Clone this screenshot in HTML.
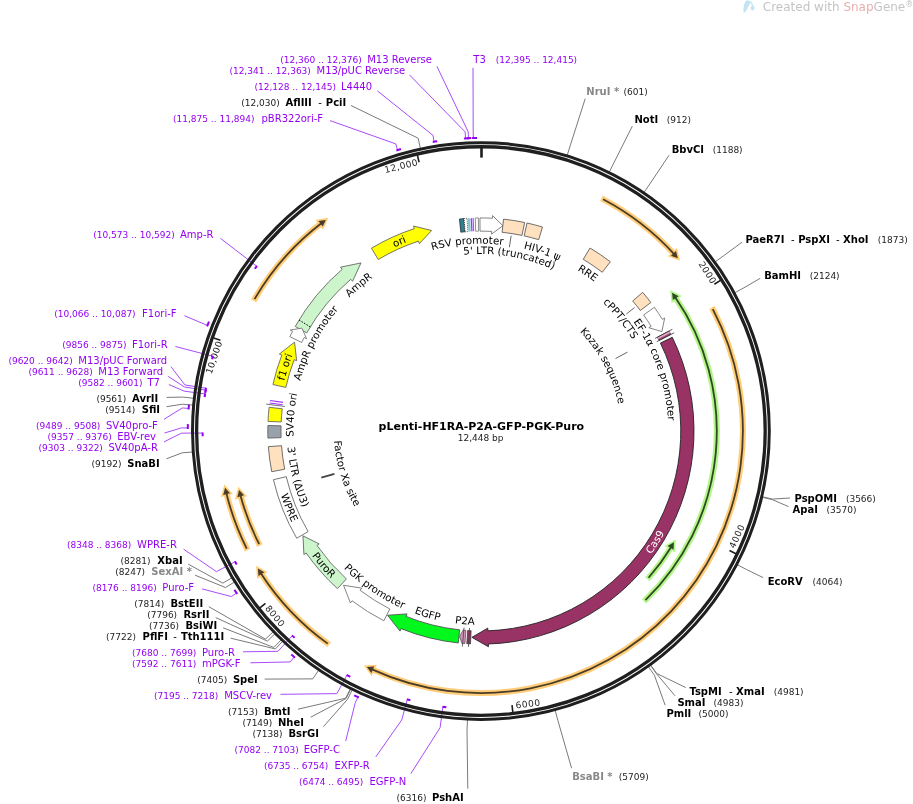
<!DOCTYPE html><html><head><meta charset="utf-8"><title>pLenti-HF1RA-P2A-GFP-PGK-Puro</title><style>html,body{margin:0;padding:0;background:#fff;width:913px;height:804px;overflow:hidden}svg{display:block}</style></head><body><svg width="913" height="804" viewBox="0 0 913 804" font-family="'DejaVu Sans', 'Liberation Sans', sans-serif">
<rect width="913" height="804" fill="#fff"/>
<g opacity="1">
<path d="M746.2,0.2 L750.2,0.9 C750.4,3 748.6,6 747.2,8.8 C746.2,10.8 745,12.6 743.7,13.3 C743.2,10.2 743.5,6.2 744.5,3.4 Z" fill="#c2e4f3"/>
<path d="M749.6,1.4 C751.2,2.4 752.4,4 752.7,6" stroke="#c2e4f3" stroke-width="1.3" fill="none"/>
<ellipse cx="752.6" cy="8.1" rx="1.9" ry="2.3" fill="#c2e4f3"/>
<text x="762.8" y="11.2" font-size="12" fill="#c4c4c4" font-family="'DejaVu Sans',sans-serif">Created with <tspan fill="#eab0b0">Snap</tspan>Gene<tspan font-size="8" dy="-4">®</tspan></text>
</g>
<polyline points="436.90,66.30 468.21,131.82 468.48,138.21" fill="none" stroke="#a84dfa" stroke-width="1"/>
<polyline points="409.60,75.00 465.19,131.96 465.52,138.35" fill="none" stroke="#a84dfa" stroke-width="1"/>
<polyline points="377.30,90.80 433.03,135.40 434.06,141.72" fill="none" stroke="#a84dfa" stroke-width="1"/>
<polyline points="351.00,105.50 418.18,138.19 420.59,149.44" fill="none" stroke="#7a7a7a" stroke-width="1"/>
<polyline points="330.00,120.60 395.77,143.90 397.59,150.04" fill="none" stroke="#a84dfa" stroke-width="1"/>
<polyline points="473.00,67.80 473.19,131.65 473.36,138.05" fill="none" stroke="#a84dfa" stroke-width="1"/>
<polyline points="585.20,98.70 570.37,145.23 566.93,156.20" fill="none" stroke="#7a7a7a" stroke-width="1"/>
<polyline points="632.30,126.20 613.95,162.73 608.84,173.03" fill="none" stroke="#7a7a7a" stroke-width="1"/>
<polyline points="669.00,155.30 649.92,183.80 643.43,193.30" fill="none" stroke="#7a7a7a" stroke-width="1"/>
<polyline points="742.00,242.20 723.71,255.72 714.39,262.45" fill="none" stroke="#7a7a7a" stroke-width="1"/>
<polyline points="760.20,278.30 743.92,287.80 733.82,293.30" fill="none" stroke="#7a7a7a" stroke-width="1"/>
<polyline points="790.00,498.00 772.57,499.08 761.37,496.47" fill="none" stroke="#7a7a7a" stroke-width="1"/>
<polyline points="788.50,506.60 772.43,499.67 761.24,497.04" fill="none" stroke="#7a7a7a" stroke-width="1"/>
<polyline points="763.10,577.60 746.48,569.49 736.28,564.18" fill="none" stroke="#7a7a7a" stroke-width="1"/>
<polyline points="685.70,687.50 656.72,673.51 649.97,664.20" fill="none" stroke="#7a7a7a" stroke-width="1"/>
<polyline points="675.00,695.80 656.48,673.69 649.73,664.37" fill="none" stroke="#7a7a7a" stroke-width="1"/>
<polyline points="665.20,705.30 654.39,675.19 647.73,665.81" fill="none" stroke="#7a7a7a" stroke-width="1"/>
<polyline points="571.60,768.20 557.88,720.49 554.92,709.37" fill="none" stroke="#7a7a7a" stroke-width="1"/>
<polyline points="467.80,788.70 467.00,730.23 467.53,718.74" fill="none" stroke="#7a7a7a" stroke-width="1"/>
<polyline points="410.80,773.70 440.06,727.75 442.95,706.75" fill="none" stroke="#a84dfa" stroke-width="1"/>
<polyline points="375.80,756.90 401.73,719.90 407.33,699.45" fill="none" stroke="#a84dfa" stroke-width="1"/>
<polyline points="345.70,741.00 355.21,702.90 357.90,697.09" fill="none" stroke="#a84dfa" stroke-width="1"/>
<polyline points="323.40,726.70 347.58,699.24 352.70,688.94" fill="none" stroke="#7a7a7a" stroke-width="1"/>
<polyline points="310.70,717.20 346.09,698.49 351.27,688.23" fill="none" stroke="#7a7a7a" stroke-width="1"/>
<polyline points="298.00,709.20 345.55,698.22 350.75,687.96" fill="none" stroke="#7a7a7a" stroke-width="1"/>
<polyline points="280.50,694.30 336.86,693.64 347.05,675.05" fill="none" stroke="#a84dfa" stroke-width="1"/>
<polyline points="264.70,679.10 312.75,678.89 319.21,669.38" fill="none" stroke="#7a7a7a" stroke-width="1"/>
<polyline points="250.40,662.80 290.14,661.94 294.22,657.01" fill="none" stroke="#a84dfa" stroke-width="1"/>
<polyline points="243.00,651.80 277.95,651.31 292.32,635.72" fill="none" stroke="#a84dfa" stroke-width="1"/>
<polyline points="230.70,638.20 275.41,648.94 283.30,640.57" fill="none" stroke="#7a7a7a" stroke-width="1"/>
<polyline points="223.10,627.80 273.88,647.48 281.83,639.17" fill="none" stroke="#7a7a7a" stroke-width="1"/>
<polyline points="215.70,617.60 267.42,641.11 275.62,633.05" fill="none" stroke="#7a7a7a" stroke-width="1"/>
<polyline points="208.80,606.70 265.52,639.16 273.79,631.17" fill="none" stroke="#7a7a7a" stroke-width="1"/>
<polyline points="202.00,588.90 231.29,596.56 236.62,593.03" fill="none" stroke="#a84dfa" stroke-width="1"/>
<polyline points="195.10,575.20 225.52,587.51 235.32,581.50" fill="none" stroke="#7a7a7a" stroke-width="1"/>
<polyline points="188.30,564.20 222.87,583.11 232.78,577.27" fill="none" stroke="#7a7a7a" stroke-width="1"/>
<polyline points="183.60,549.20 216.44,571.63 235.16,561.68" fill="none" stroke="#a84dfa" stroke-width="1"/>
<polyline points="166.40,458.80 182.19,452.80 193.66,451.96" fill="none" stroke="#7a7a7a" stroke-width="1"/>
<polyline points="164.00,441.90 181.41,433.17 202.61,433.02" fill="none" stroke="#a84dfa" stroke-width="1"/>
<polyline points="164.50,433.00 181.42,427.88 187.82,427.94" fill="none" stroke="#a84dfa" stroke-width="1"/>
<polyline points="164.00,419.30 182.29,407.94 188.67,408.44" fill="none" stroke="#a84dfa" stroke-width="1"/>
<polyline points="166.50,406.70 182.61,404.18 194.06,405.21" fill="none" stroke="#7a7a7a" stroke-width="1"/>
<polyline points="166.50,397.40 183.33,397.11 194.76,398.41" fill="none" stroke="#7a7a7a" stroke-width="1"/>
<polyline points="168.90,384.50 184.08,391.11 205.09,393.94" fill="none" stroke="#a84dfa" stroke-width="1"/>
<polyline points="168.10,376.40 184.65,387.07 205.62,390.18" fill="none" stroke="#a84dfa" stroke-width="1"/>
<polyline points="171.00,366.70 184.97,384.97 205.91,388.24" fill="none" stroke="#a84dfa" stroke-width="1"/>
<polyline points="175.40,346.50 212.84,356.27" fill="none" stroke="#a84dfa" stroke-width="1"/>
<polyline points="184.40,315.70 207.47,325.48" fill="none" stroke="#a84dfa" stroke-width="1"/>
<polyline points="220.40,238.30 256.68,266.20" fill="none" stroke="#a84dfa" stroke-width="1"/>
<circle cx="480.9" cy="431.05" r="288.4" fill="none" stroke="#1f1f1f" stroke-width="3.0"/>
<circle cx="480.9" cy="431.05" r="284.3" fill="none" stroke="#1f1f1f" stroke-width="3.3"/>
<line x1="481.50" y1="147.0" x2="481.50" y2="157.6" stroke="#1e1e1e" stroke-width="2.6"/>
<line x1="720.48" y1="280.42" x2="714.38" y2="284.25" stroke="#1e1e1e" stroke-width="1.6"/>
<text x="711.53" y="284.78" font-size="9" fill="#1e1e1e" letter-spacing="0.45" text-anchor="end" transform="rotate(57.62 711.53 284.78)">2000</text>
<line x1="735.94" y1="553.69" x2="729.46" y2="550.57" stroke="#1e1e1e" stroke-width="1.6"/>
<text x="734.47" y="549.08" font-size="9" fill="#1e1e1e" letter-spacing="0.6" text-anchor="start" transform="rotate(-65.04 734.47 549.08)">4000</text>
<line x1="512.83" y1="712.24" x2="512.02" y2="705.09" stroke="#1e1e1e" stroke-width="1.6"/>
<text x="515.95" y="708.55" font-size="9" fill="#1e1e1e" letter-spacing="0.6" text-anchor="start" transform="rotate(-7.20 515.95 708.55)">6000</text>
<line x1="259.85" y1="607.75" x2="265.47" y2="603.26" stroke="#1e1e1e" stroke-width="1.6"/>
<text x="264.64" y="608.42" font-size="9" fill="#1e1e1e" letter-spacing="0.6" text-anchor="start" transform="rotate(50.64 264.64 608.42)">8000</text>
<line x1="213.65" y1="337.97" x2="220.45" y2="340.33" stroke="#1e1e1e" stroke-width="1.6"/>
<text x="222.64" y="342.24" font-size="9" fill="#1e1e1e" letter-spacing="0.45" text-anchor="end" transform="rotate(288.98 222.64 342.24)">10,000</text>
<line x1="417.45" y1="155.25" x2="419.06" y2="162.27" stroke="#1e1e1e" stroke-width="1.6"/>
<text x="418.62" y="165.15" font-size="9" fill="#1e1e1e" letter-spacing="0.45" text-anchor="end" transform="rotate(346.82 418.62 165.15)">12,000</text>
<path d="M466.86,138.29 A293.10,293.10 0 0 1 471.27,138.11" fill="none" stroke="#9400f0" stroke-width="2"/>
<path d="M464.06,138.43 A293.10,293.10 0 0 1 469.35,138.18" fill="none" stroke="#9400f0" stroke-width="2"/>
<path d="M432.75,141.93 A293.10,293.10 0 0 1 437.26,141.22" fill="none" stroke="#9400f0" stroke-width="2"/>
<path d="M396.33,150.42 A293.10,293.10 0 0 1 400.99,149.05" fill="none" stroke="#9400f0" stroke-width="2"/>
<path d="M472.04,138.08 A293.10,293.10 0 0 1 477.04,137.98" fill="none" stroke="#9400f0" stroke-width="2"/>
<path d="M446.36,707.20 A278.30,278.30 0 0 1 442.47,706.68" fill="none" stroke="#9400f0" stroke-width="2"/>
<path d="M410.38,700.27 A278.30,278.30 0 0 1 406.87,699.32" fill="none" stroke="#9400f0" stroke-width="2"/>
<path d="M358.82,697.52 A293.10,293.10 0 0 1 354.16,695.33" fill="none" stroke="#9400f0" stroke-width="2"/>
<path d="M350.32,676.82 A278.30,278.30 0 0 1 346.63,674.82" fill="none" stroke="#9400f0" stroke-width="2"/>
<path d="M295.01,657.66 A293.10,293.10 0 0 1 291.28,654.55" fill="none" stroke="#9400f0" stroke-width="2"/>
<path d="M294.65,637.84 A278.30,278.30 0 0 1 291.96,635.39" fill="none" stroke="#9400f0" stroke-width="2"/>
<path d="M237.19,593.88 A293.10,293.10 0 0 1 234.44,589.69" fill="none" stroke="#9400f0" stroke-width="2"/>
<path d="M236.73,564.58 A278.30,278.30 0 0 1 234.94,561.25" fill="none" stroke="#9400f0" stroke-width="2"/>
<path d="M202.65,436.17 A278.30,278.30 0 0 1 202.60,432.53" fill="none" stroke="#9400f0" stroke-width="2"/>
<path d="M187.81,428.97 A293.10,293.10 0 0 1 187.88,424.11" fill="none" stroke="#9400f0" stroke-width="2"/>
<path d="M188.60,409.46 A293.10,293.10 0 0 1 188.99,404.62" fill="none" stroke="#9400f0" stroke-width="2"/>
<path d="M204.68,397.06 A278.30,278.30 0 0 1 205.15,393.45" fill="none" stroke="#9400f0" stroke-width="2"/>
<path d="M205.21,393.02 A278.30,278.30 0 0 1 205.69,389.70" fill="none" stroke="#9400f0" stroke-width="2"/>
<path d="M205.39,391.77 A278.30,278.30 0 0 1 205.99,387.76" fill="none" stroke="#9400f0" stroke-width="2"/>
<path d="M212.01,359.31 A278.30,278.30 0 0 1 212.97,355.80" fill="none" stroke="#9400f0" stroke-width="2"/>
<path d="M207.11,326.43 A293.10,293.10 0 0 1 208.99,321.64" fill="none" stroke="#9400f0" stroke-width="2"/>
<path d="M254.82,268.75 A278.30,278.30 0 0 1 256.97,265.81" fill="none" stroke="#9400f0" stroke-width="2"/>
<path d="M601.51,198.46 A262.00,262.00 0 0 1 674.37,254.38" fill="none" stroke="#ffcc77" stroke-width="6.0"/>
<path d="M676.02,250.99 L677.79,258.20 L670.87,255.74 Z" fill="#ffcc77" stroke="#ffcc77" stroke-width="3.2" stroke-linejoin="miter"/>
<path d="M603.10,199.29 A262.00,262.00 0 0 1 674.37,254.38" fill="none" stroke="#4a3c26" stroke-width="1.8"/>
<path d="M676.02,250.99 L677.79,258.20 L670.87,255.74 Z" fill="#4a3c26" stroke="none"/>
<path d="M711.93,307.48 A262.00,262.00 0 0 1 371.51,669.12" fill="none" stroke="#ffcc77" stroke-width="6.0"/>
<path d="M371.31,672.88 L366.87,666.93 L374.20,666.50 Z" fill="#ffcc77" stroke="#ffcc77" stroke-width="3.2" stroke-linejoin="miter"/>
<path d="M712.77,309.07 A262.00,262.00 0 0 1 371.51,669.12" fill="none" stroke="#4a3c26" stroke-width="1.8"/>
<path d="M371.31,672.88 L366.87,666.93 L374.20,666.50 Z" fill="#4a3c26" stroke="none"/>
<path d="M253.61,300.73 A262.00,262.00 0 0 1 321.69,222.97" fill="none" stroke="#ffcc77" stroke-width="6.0"/>
<path d="M318.46,221.04 L325.79,219.90 L322.74,226.58 Z" fill="#ffcc77" stroke="#ffcc77" stroke-width="3.2" stroke-linejoin="miter"/>
<path d="M254.51,299.17 A262.00,262.00 0 0 1 321.69,222.97" fill="none" stroke="#4a3c26" stroke-width="1.8"/>
<path d="M318.46,221.04 L325.79,219.90 L322.74,226.58 Z" fill="#4a3c26" stroke="none"/>
<path d="M329.21,644.67 A262.00,262.00 0 0 1 260.65,572.94" fill="none" stroke="#ffcc77" stroke-width="6.0"/>
<path d="M258.46,576.01 L257.92,568.61 L264.33,572.18 Z" fill="#ffcc77" stroke="#ffcc77" stroke-width="3.2" stroke-linejoin="miter"/>
<path d="M327.74,643.62 A262.00,262.00 0 0 1 260.65,572.94" fill="none" stroke="#4a3c26" stroke-width="1.8"/>
<path d="M258.46,576.01 L257.92,568.61 L264.33,572.18 Z" fill="#4a3c26" stroke="none"/>
<path d="M247.54,550.16 A262.00,262.00 0 0 1 226.26,492.71" fill="none" stroke="#ffcc77" stroke-width="6.0"/>
<path d="M223.19,494.88 L225.10,487.71 L229.98,493.20 Z" fill="#ffcc77" stroke="#ffcc77" stroke-width="3.2" stroke-linejoin="miter"/>
<path d="M246.73,548.56 A262.00,262.00 0 0 1 226.26,492.71" fill="none" stroke="#4a3c26" stroke-width="1.8"/>
<path d="M223.19,494.88 L225.10,487.71 L229.98,493.20 Z" fill="#4a3c26" stroke="none"/>
<path d="M259.94,545.63 A248.90,248.90 0 0 1 240.36,495.03" fill="none" stroke="#ffcc77" stroke-width="6.0"/>
<path d="M237.32,497.20 L239.08,489.99 L244.08,495.37 Z" fill="#ffcc77" stroke="#ffcc77" stroke-width="3.2" stroke-linejoin="miter"/>
<path d="M259.12,544.02 A248.90,248.90 0 0 1 240.36,495.03" fill="none" stroke="#4a3c26" stroke-width="1.8"/>
<path d="M237.32,497.20 L239.08,489.99 L244.08,495.37 Z" fill="#4a3c26" stroke="none"/>
<path d="M644.13,601.36 A235.90,235.90 0 0 0 675.07,297.09" fill="none" stroke="#b4f58a" stroke-width="6.0"/>
<path d="M678.66,296.13 L672.03,292.79 L672.88,300.08 Z" fill="#b4f58a" stroke="#b4f58a" stroke-width="3.2" stroke-linejoin="miter"/>
<path d="M645.42,600.11 A235.90,235.90 0 0 0 675.07,297.09" fill="none" stroke="#2f4a22" stroke-width="1.8"/>
<path d="M678.66,296.13 L672.03,292.79 L672.88,300.08 Z" fill="#2f4a22" stroke="none"/>
<path d="M647.37,579.13 A222.80,222.80 0 0 0 671.19,546.94" fill="none" stroke="#b4f58a" stroke-width="6.0"/>
<path d="M673.56,549.77 L673.91,542.35 L667.60,546.10 Z" fill="#b4f58a" stroke="#b4f58a" stroke-width="3.2" stroke-linejoin="miter"/>
<path d="M648.56,577.78 A222.80,222.80 0 0 0 671.19,546.94" fill="none" stroke="#2f4a22" stroke-width="1.8"/>
<path d="M673.56,549.77 L673.91,542.35 L667.60,546.10 Z" fill="#2f4a22" stroke="none"/>
<path d="M459.44,219.03 A213.10,213.10 0 0 1 463.99,218.62 L465.04,231.78 A199.90,199.90 0 0 0 460.77,232.17 Z" fill="#2e7f90" stroke="#333" stroke-width="0.8" stroke-linejoin="miter" />
<path d="M463.99,218.62 A213.10,213.10 0 0 1 467.07,218.40 L467.93,231.57 A199.90,199.90 0 0 0 465.04,231.78 Z" fill="#ffffff" stroke="#222" stroke-width="0.9" stroke-linejoin="miter" stroke-dasharray="0.9,1.1"/>
<path d="M467.59,218.37 A213.10,213.10 0 0 1 470.16,218.22 L470.82,231.40 A199.90,199.90 0 0 0 468.42,231.54 Z" fill="#8fc6d4" stroke="none" stroke-width="0" stroke-linejoin="miter" />
<path d="M470.68,218.20 A213.10,213.10 0 0 1 472.01,218.14 L472.56,231.32 A199.90,199.90 0 0 0 471.31,231.38 Z" fill="#a033ff" stroke="none" stroke-width="0" stroke-linejoin="miter" />
<path d="M472.53,218.11 A213.10,213.10 0 0 1 473.76,218.07 L474.20,231.26 A199.90,199.90 0 0 0 473.05,231.30 Z" fill="#b155ff" stroke="none" stroke-width="0" stroke-linejoin="miter" />
<path d="M475.32,218.02 A213.10,213.10 0 0 1 478.41,217.96 L478.56,231.16 A199.90,199.90 0 0 0 475.67,231.22 Z" fill="#ffffff" stroke="#777" stroke-width="0.8" stroke-linejoin="miter" />
<path d="M479.97,217.95 A213.10,213.10 0 0 1 492.42,218.26 L492.57,215.57 L502.84,225.72 L491.56,234.14 L491.71,231.44 A199.90,199.90 0 0 0 480.03,231.15 Z" fill="#ffffff" stroke="#666" stroke-width="0.8" stroke-linejoin="miter"/>
<path d="M503.54,219.16 A213.10,213.10 0 0 1 524.66,222.49 L521.95,235.41 A199.90,199.90 0 0 0 502.14,232.28 Z" fill="#ffe0bf" stroke="#4d4d4d" stroke-width="0.8" stroke-linejoin="miter" />
<path d="M527.02,223.00 A213.10,213.10 0 0 1 542.49,227.05 L538.68,239.68 A199.90,199.90 0 0 0 524.17,235.89 Z" fill="#ffe0bf" stroke="#4d4d4d" stroke-width="0.8" stroke-linejoin="miter" />
<path d="M590.02,248.01 A213.10,213.10 0 0 1 610.33,261.76 L602.31,272.25 A199.90,199.90 0 0 0 583.26,259.34 Z" fill="#ffe0bf" stroke="#4d4d4d" stroke-width="0.8" stroke-linejoin="miter" />
<path d="M642.70,292.37 A213.10,213.10 0 0 1 650.87,302.51 L640.34,310.47 A199.90,199.90 0 0 0 632.68,300.96 Z" fill="#ffe0bf" stroke="#4d4d4d" stroke-width="0.8" stroke-linejoin="miter" />
<path d="M654.39,307.30 A213.10,213.10 0 0 1 662.40,319.39 L664.70,317.97 L661.86,331.57 L648.86,327.72 L651.16,326.31 A199.90,199.90 0 0 0 643.64,314.97 Z" fill="#ffffff" stroke="#666" stroke-width="0.8" stroke-linejoin="miter"/>
<path d="M669.06,331.01 A213.10,213.10 0 0 1 670.86,334.47 L659.09,340.45 A199.90,199.90 0 0 0 657.40,337.20 Z" fill="#a8467e" stroke="#333" stroke-width="0.7" stroke-linejoin="miter" />
<path d="M669.20,331.27 A213.10,213.10 0 0 1 670.09,332.98 L658.37,339.06 A199.90,199.90 0 0 0 657.53,337.45 Z" fill="#e3a6c8" stroke="none" stroke-width="0" stroke-linejoin="miter" />
<line x1="655.11" y1="338.42" x2="672.32" y2="329.27" stroke="#333" stroke-width="0.8"/>
<line x1="656.77" y1="341.63" x2="674.16" y2="332.79" stroke="#333" stroke-width="0.8"/>
<path d="M672.27,337.30 A213.10,213.10 0 0 1 488.34,644.02 L488.43,646.72 L471.89,637.35 L487.78,628.13 L487.88,630.83 A199.90,199.90 0 0 0 660.42,343.11 Z" fill="#993366" stroke="#222" stroke-width="0.9" stroke-linejoin="miter"/>
<path d="M470.49,643.90 A213.10,213.10 0 0 1 466.78,643.68 L467.65,630.51 A199.90,199.90 0 0 0 471.13,630.71 Z" fill="#993366" stroke="#333" stroke-width="0.7" stroke-linejoin="miter" />
<path d="M464.92,643.55 A213.10,213.10 0 0 1 462.33,643.34 L462.27,643.94 L459.49,636.44 L463.53,629.59 L463.48,630.19 A199.90,199.90 0 0 0 465.91,630.39 Z" fill="#d591b8" stroke="#444" stroke-width="0.7" stroke-linejoin="miter"/>
<line x1="469.54" y1="628.02" x2="468.45" y2="646.99" stroke="#444" stroke-width="0.8"/>
<line x1="464.05" y1="627.63" x2="462.42" y2="646.56" stroke="#444" stroke-width="0.8"/>
<path d="M458.26,642.94 A213.10,213.10 0 0 1 401.07,628.63 L400.06,631.14 L387.54,615.24 L407.03,613.89 L406.02,616.39 A199.90,199.90 0 0 0 459.66,629.82 Z" fill="#02f81c" stroke="#4a4050" stroke-width="0.8" stroke-linejoin="miter"/>
<path d="M383.82,620.75 A213.10,213.10 0 0 1 352.06,600.79 L350.43,602.94 L343.53,585.23 L361.67,588.13 L360.04,590.28 A199.90,199.90 0 0 0 389.84,609.00 Z" fill="#ffffff" stroke="#666" stroke-width="0.8" stroke-linejoin="miter"/>
<path d="M337.48,588.67 A213.10,213.10 0 0 1 306.13,552.97 L303.91,554.52 L302.97,535.86 L319.17,543.88 L316.95,545.42 A199.90,199.90 0 0 0 346.36,578.90 Z" fill="#ccf5cc" stroke="#555" stroke-width="0.8" stroke-linejoin="miter"/>
<path d="M296.72,538.24 A213.10,213.10 0 0 1 273.43,479.71 L286.28,476.70 A199.90,199.90 0 0 0 308.13,531.60 Z" fill="#ffffff" stroke="#555" stroke-width="0.8" stroke-linejoin="miter" />
<path d="M271.72,471.71 A213.10,213.10 0 0 1 268.37,446.66 L281.54,445.69 A199.90,199.90 0 0 0 284.67,469.19 Z" fill="#ffe0bf" stroke="#4d4d4d" stroke-width="0.8" stroke-linejoin="miter" />
<path d="M267.92,438.12 A213.10,213.10 0 0 1 267.87,425.47 L281.07,425.82 A199.90,199.90 0 0 0 281.11,437.68 Z" fill="#99a1ab" stroke="#555" stroke-width="0.8" stroke-linejoin="miter" />
<path d="M268.02,421.38 A213.10,213.10 0 0 1 269.13,407.30 L282.25,408.77 A199.90,199.90 0 0 0 281.21,421.98 Z" fill="#ffff00" stroke="#555" stroke-width="0.8" stroke-linejoin="miter" />
<path d="M269.57,403.60 A213.10,213.10 0 0 1 269.72,402.50 L282.80,404.27 A199.90,199.90 0 0 0 282.66,405.30 Z" fill="#a033ff" stroke="none" stroke-width="0" stroke-linejoin="miter" />
<line x1="284.94" y1="406.47" x2="266.08" y2="404.10" stroke="#555" stroke-width="0.8"/>
<path d="M269.93,401.02 A213.10,213.10 0 0 1 270.09,399.92 L283.14,401.85 A199.90,199.90 0 0 0 282.99,402.88 Z" fill="#a033ff" stroke="none" stroke-width="0" stroke-linejoin="miter" />
<path d="M272.93,384.56 A213.10,213.10 0 0 1 281.82,355.03 L279.30,354.07 L294.52,342.15 L296.67,360.70 L294.15,359.74 A199.90,199.90 0 0 0 285.81,387.44 Z" fill="#ffff00" stroke="#555" stroke-width="0.8" stroke-linejoin="miter"/>
<path d="M295.24,326.44 A213.10,213.10 0 0 1 342.22,269.25 L340.46,267.20 L360.98,262.94 L352.57,281.32 L350.81,279.27 A199.90,199.90 0 0 0 306.74,332.92 Z" fill="#ccf5cc" stroke="#555" stroke-width="0.8" stroke-linejoin="miter"/>
<line x1="299.01" y1="320.02" x2="310.28" y2="326.90" stroke="#111" stroke-width="1" stroke-dasharray="1.6,1.3"/>
<path d="M289.86,336.63 A213.10,213.10 0 0 1 292.57,331.33 L290.18,330.07 L301.89,328.11 L306.62,338.77 L304.24,337.51 A199.90,199.90 0 0 0 301.69,342.48 Z" fill="#ffffff" stroke="#666" stroke-width="0.8" stroke-linejoin="miter"/>
<path d="M371.46,248.20 A213.10,213.10 0 0 1 414.34,228.61 L413.50,226.05 L431.64,230.51 L419.31,243.72 L418.46,241.15 A199.90,199.90 0 0 0 378.24,259.52 Z" fill="#ffff00" stroke="#555" stroke-width="0.8" stroke-linejoin="miter"/>
<path id="tp1" d="M294.48,411.95 A187.40,187.40 0 0 1 662.61,385.24" fill="none" stroke="none"/>
<text font-size="10.3" fill="#000" ><textPath href="#tp1" startOffset="50%" text-anchor="middle">RSV promoter</textPath></text>
<path id="tp2" d="M313.85,372.55 A177.00,177.00 0 0 1 657.89,428.89" fill="none" stroke="none"/>
<text font-size="10.3" fill="#000" ><textPath href="#tp2" startOffset="50%" text-anchor="middle">5&#39; LTR (truncated)</textPath></text>
<path id="tp3" d="M316.84,340.48 A187.40,187.40 0 0 1 666.04,460.04" fill="none" stroke="none"/>
<text font-size="10.3" fill="#000" ><textPath href="#tp3" startOffset="50%" text-anchor="middle">HIV-1 ψ</textPath></text>
<path id="tp4" d="M346.32,300.64 A187.40,187.40 0 0 1 651.97,507.57" fill="none" stroke="none"/>
<text font-size="10.3" fill="#000" ><textPath href="#tp4" startOffset="50%" text-anchor="middle">RRE</textPath></text>
<path id="tp5" d="M395.63,275.94 A177.00,177.00 0 0 1 614.08,547.64" fill="none" stroke="none"/>
<text font-size="10.3" fill="#000" ><textPath href="#tp5" startOffset="50%" text-anchor="middle">cPPT/CTS</textPath></text>
<path id="tp6" d="M450.29,246.17 A187.40,187.40 0 0 1 572.90,594.32" fill="none" stroke="none"/>
<text font-size="10.3" fill="#000" ><textPath href="#tp6" startOffset="50%" text-anchor="middle">EF-1α core promoter</textPath></text>
<path id="tp7" d="M437.41,297.98 A140.00,140.00 0 0 1 567.29,541.22" fill="none" stroke="none"/>
<text font-size="10.3" fill="#000" ><textPath href="#tp7" startOffset="50%" text-anchor="middle">Kozak sequence</textPath></text>
<path id="tp8" d="M400.50,625.16 A210.10,210.10 0 0 0 622.84,276.15" fill="none" stroke="none"/>
<text font-size="10.3" fill="#ffffff" ><textPath href="#tp8" startOffset="50%" text-anchor="middle">Cas9</textPath></text>
<path id="tp9" d="M287.70,448.63 A194.00,194.00 0 0 0 668.46,480.61" fill="none" stroke="none"/>
<text font-size="10.3" fill="#000" ><textPath href="#tp9" startOffset="50%" text-anchor="middle">P2A</textPath></text>
<path id="tp10" d="M288.03,410.10 A194.00,194.00 0 0 0 654.97,516.70" fill="none" stroke="none"/>
<text font-size="10.3" fill="#000" ><textPath href="#tp10" startOffset="50%" text-anchor="middle">EGFP</textPath></text>
<path id="tp11" d="M304.09,351.22 A194.00,194.00 0 0 0 619.74,566.54" fill="none" stroke="none"/>
<text font-size="10.3" fill="#000" ><textPath href="#tp11" startOffset="50%" text-anchor="middle">PGK promoter</textPath></text>
<path id="tp12" d="M318.78,297.41 A210.10,210.10 0 0 0 587.53,612.08" fill="none" stroke="none"/>
<text font-size="10.3" fill="#000" ><textPath href="#tp12" startOffset="50%" text-anchor="middle">PuroR</textPath></text>
<path id="tp13" d="M370.19,252.49 A210.10,210.10 0 0 0 523.86,636.71" fill="none" stroke="none"/>
<text font-size="10.3" fill="#000" ><textPath href="#tp13" startOffset="50%" text-anchor="middle">WPRE</textPath></text>
<path id="tp14" d="M401.99,253.82 A194.00,194.00 0 0 0 494.43,624.58" fill="none" stroke="none"/>
<text font-size="10.3" fill="#000" ><textPath href="#tp14" startOffset="50%" text-anchor="middle">3&#39; LTR (ΔU3)</textPath></text>
<path id="tp15" d="M413.20,300.45 A147.10,147.10 0 0 0 499.85,576.92" fill="none" stroke="none"/>
<text font-size="10.3" fill="#000" ><textPath href="#tp15" startOffset="50%" text-anchor="middle">Factor Xa site</textPath></text>
<path id="tp16" d="M432.71,612.15 A187.40,187.40 0 0 1 464.24,244.39" fill="none" stroke="none"/>
<text font-size="10.3" fill="#000" ><textPath href="#tp16" startOffset="50%" text-anchor="middle">SV40 ori</textPath></text>
<path id="tp17" d="M385.33,610.03 A202.90,202.90 0 0 1 509.49,230.17" fill="none" stroke="none"/>
<text font-size="10.3" fill="#000" ><textPath href="#tp17" startOffset="50%" text-anchor="middle">f1 ori</textPath></text>
<path id="tp18" d="M365.53,578.72 A187.40,187.40 0 0 1 538.81,252.82" fill="none" stroke="none"/>
<text font-size="10.3" fill="#000" ><textPath href="#tp18" startOffset="50%" text-anchor="middle">AmpR promoter</textPath></text>
<path id="tp19" d="M318.44,524.47 A187.40,187.40 0 0 1 601.61,287.70" fill="none" stroke="none"/>
<text font-size="10.3" fill="#000" ><textPath href="#tp19" startOffset="50%" text-anchor="middle">AmpR</textPath></text>
<path id="tp20" d="M283.44,477.73 A202.90,202.90 0 0 1 650.49,319.65" fill="none" stroke="none"/>
<text font-size="10.3" fill="#000" ><textPath href="#tp20" startOffset="50%" text-anchor="middle">ori</textPath></text>
<line x1="511.15" y1="235.68" x2="509.36" y2="247.24" stroke="#666" stroke-width="1"/>
<line x1="634.51" y1="307.55" x2="626.40" y2="314.06" stroke="#666" stroke-width="1"/>
<line x1="627.50" y1="352.11" x2="615.52" y2="358.56" stroke="#666" stroke-width="1"/>
<line x1="321.28" y1="477.72" x2="334.43" y2="473.88" stroke="#444" stroke-width="1.8"/>
<text x="280.3" y="62.6" font-size="9" fill="#9400f0">(12,360 .. 12,376)</text>
<text x="367.2" y="62.6" font-size="10" fill="#9400f0">M13 Reverse</text>
<text x="229.4" y="73.7" font-size="9" fill="#9400f0">(12,341 .. 12,363)</text>
<text x="316.5" y="73.7" font-size="10" fill="#9400f0">M13/pUC Reverse</text>
<text x="254.5" y="90.2" font-size="9" fill="#9400f0">(12,128 .. 12,145)</text>
<text x="341.0" y="90.2" font-size="10" fill="#9400f0">L4440</text>
<text x="241.3" y="105.7" font-size="9" fill="#222">(12,030)</text>
<text x="285.5" y="105.7" font-size="10" font-weight="bold" fill="#000">AflIII</text>
<text x="318.3" y="105.7" font-size="10" font-weight="normal" fill="#000">-</text>
<text x="325.8" y="105.7" font-size="10" font-weight="bold" fill="#000">PciI</text>
<text x="173.0" y="121.5" font-size="9" fill="#9400f0">(11,875 .. 11,894)</text>
<text x="261.5" y="121.5" font-size="10" fill="#9400f0">pBR322ori-F</text>
<text x="495.7" y="62.5" font-size="9" fill="#9400f0">(12,395 .. 12,415)</text>
<text x="473.3" y="62.5" font-size="10" fill="#9400f0">T3</text>
<text x="623.5" y="95.2" font-size="9" fill="#222">(601)</text>
<text x="586.3" y="95.2" font-size="10" font-weight="bold" fill="#888">NruI *</text>
<text x="666.7" y="122.8" font-size="9" fill="#222">(912)</text>
<text x="634.5" y="122.8" font-size="10" font-weight="bold" fill="#000">NotI</text>
<text x="712.7" y="152.8" font-size="9" fill="#222">(1188)</text>
<text x="671.7" y="152.8" font-size="10" font-weight="bold" fill="#000">BbvCI</text>
<text x="877.8" y="242.9" font-size="9" fill="#222">(1873)</text>
<text x="745.5" y="242.9" font-size="10" font-weight="bold" fill="#000">PaeR7I</text>
<text x="791.0" y="242.9" font-size="10" font-weight="normal" fill="#000">-</text>
<text x="798.2" y="242.9" font-size="10" font-weight="bold" fill="#000">PspXI</text>
<text x="836.1" y="242.9" font-size="10" font-weight="normal" fill="#000">-</text>
<text x="843.1" y="242.9" font-size="10" font-weight="bold" fill="#000">XhoI</text>
<text x="809.7" y="278.8" font-size="9" fill="#222">(2124)</text>
<text x="764.2" y="278.8" font-size="10" font-weight="bold" fill="#000">BamHI</text>
<text x="845.9" y="501.6" font-size="9" fill="#222">(3566)</text>
<text x="794.5" y="501.6" font-size="10" font-weight="bold" fill="#000">PspOMI</text>
<text x="826.6" y="512.5" font-size="9" fill="#222">(3570)</text>
<text x="792.5" y="512.5" font-size="10" font-weight="bold" fill="#000">ApaI</text>
<text x="812.6" y="584.6" font-size="9" fill="#222">(4064)</text>
<text x="767.7" y="584.6" font-size="10" font-weight="bold" fill="#000">EcoRV</text>
<text x="773.7" y="695.1" font-size="9" fill="#222">(4981)</text>
<text x="689.4" y="695.1" font-size="10" font-weight="bold" fill="#000">TspMI</text>
<text x="729.1" y="695.1" font-size="10" font-weight="normal" fill="#000">-</text>
<text x="736.1" y="695.1" font-size="10" font-weight="bold" fill="#000">XmaI</text>
<text x="713.6" y="706.1" font-size="9" fill="#222">(4983)</text>
<text x="677.4" y="706.1" font-size="10" font-weight="bold" fill="#000">SmaI</text>
<text x="698.6" y="716.7" font-size="9" fill="#222">(5000)</text>
<text x="666.4" y="716.7" font-size="10" font-weight="bold" fill="#000">PmlI</text>
<text x="618.8" y="779.6" font-size="9" fill="#222">(5709)</text>
<text x="572.2" y="779.6" font-size="10" font-weight="bold" fill="#888">BsaBI *</text>
<text x="396.5" y="801.3" font-size="9" fill="#222">(6316)</text>
<text x="432.0" y="801.3" font-size="10" font-weight="bold" fill="#000">PshAI</text>
<text x="299.0" y="784.5" font-size="9" fill="#9400f0">(6474 .. 6495)</text>
<text x="369.5" y="784.5" font-size="10" fill="#9400f0">EGFP-N</text>
<text x="264.0" y="768.6" font-size="9" fill="#9400f0">(6735 .. 6754)</text>
<text x="334.5" y="768.6" font-size="10" fill="#9400f0">EXFP-R</text>
<text x="234.5" y="752.8" font-size="9" fill="#9400f0">(7082 .. 7103)</text>
<text x="303.7" y="752.8" font-size="10" fill="#9400f0">EGFP-C</text>
<text x="252.6" y="736.9" font-size="9" fill="#222">(7138)</text>
<text x="288.5" y="736.9" font-size="10" font-weight="bold" fill="#000">BsrGI</text>
<text x="242.4" y="725.8" font-size="9" fill="#222">(7149)</text>
<text x="278.0" y="725.8" font-size="10" font-weight="bold" fill="#000">NheI</text>
<text x="228.1" y="714.6" font-size="9" fill="#222">(7153)</text>
<text x="264.0" y="714.6" font-size="10" font-weight="bold" fill="#000">BmtI</text>
<text x="154.0" y="699.3" font-size="9" fill="#9400f0">(7195 .. 7218)</text>
<text x="224.2" y="699.3" font-size="10" fill="#9400f0">MSCV-rev</text>
<text x="197.3" y="682.8" font-size="9" fill="#222">(7405)</text>
<text x="232.9" y="682.8" font-size="10" font-weight="bold" fill="#000">SpeI</text>
<text x="132.1" y="666.9" font-size="9" fill="#9400f0">(7592 .. 7611)</text>
<text x="202.0" y="666.9" font-size="10" fill="#9400f0">mPGK-F</text>
<text x="132.1" y="656.0" font-size="9" fill="#9400f0">(7680 .. 7699)</text>
<text x="202.0" y="656.0" font-size="10" fill="#9400f0">Puro-R</text>
<text x="106.1" y="639.5" font-size="9" fill="#222">(7722)</text>
<text x="142.6" y="639.5" font-size="10" font-weight="bold" fill="#000">PflFI</text>
<text x="173.3" y="639.5" font-size="10" font-weight="normal" fill="#000">-</text>
<text x="180.9" y="639.5" font-size="10" font-weight="bold" fill="#000">Tth111I</text>
<text x="149.1" y="628.6" font-size="9" fill="#222">(7736)</text>
<text x="185.5" y="628.6" font-size="10" font-weight="bold" fill="#000">BsiWI</text>
<text x="147.2" y="617.6" font-size="9" fill="#222">(7796)</text>
<text x="183.4" y="617.6" font-size="10" font-weight="bold" fill="#000">RsrII</text>
<text x="134.3" y="606.7" font-size="9" fill="#222">(7814)</text>
<text x="170.5" y="606.7" font-size="10" font-weight="bold" fill="#000">BstEII</text>
<text x="92.4" y="591.1" font-size="9" fill="#9400f0">(8176 .. 8196)</text>
<text x="162.3" y="591.1" font-size="10" fill="#9400f0">Puro-F</text>
<text x="115.2" y="575.4" font-size="9" fill="#222">(8247)</text>
<text x="151.3" y="575.4" font-size="10" font-weight="bold" fill="#888">SexAI *</text>
<text x="120.6" y="563.9" font-size="9" fill="#222">(8281)</text>
<text x="157.3" y="563.9" font-size="10" font-weight="bold" fill="#000">XbaI</text>
<text x="67.0" y="548.0" font-size="9" fill="#9400f0">(8348 .. 8368)</text>
<text x="137.1" y="548.0" font-size="10" fill="#9400f0">WPRE-R</text>
<text x="91.6" y="466.8" font-size="9" fill="#222">(9192)</text>
<text x="127.2" y="466.8" font-size="10" font-weight="bold" fill="#000">SnaBI</text>
<text x="38.6" y="450.5" font-size="9" fill="#9400f0">(9303 .. 9322)</text>
<text x="108.4" y="450.5" font-size="10" fill="#9400f0">SV40pA-R</text>
<text x="47.5" y="439.6" font-size="9" fill="#9400f0">(9357 .. 9376)</text>
<text x="117.3" y="439.6" font-size="10" fill="#9400f0">EBV-rev</text>
<text x="36.1" y="428.8" font-size="9" fill="#9400f0">(9489 .. 9508)</text>
<text x="106.0" y="428.8" font-size="10" fill="#9400f0">SV40pro-F</text>
<text x="105.3" y="412.5" font-size="9" fill="#222">(9514)</text>
<text x="141.7" y="412.5" font-size="10" font-weight="bold" fill="#000">SfiI</text>
<text x="96.4" y="401.6" font-size="9" fill="#222">(9561)</text>
<text x="132.0" y="401.6" font-size="10" font-weight="bold" fill="#000">AvrII</text>
<text x="78.3" y="386.1" font-size="9" fill="#9400f0">(9582 .. 9601)</text>
<text x="147.5" y="386.1" font-size="10" fill="#9400f0">T7</text>
<text x="28.4" y="374.6" font-size="9" fill="#9400f0">(9611 .. 9628)</text>
<text x="98.3" y="374.6" font-size="10" fill="#9400f0">M13 Forward</text>
<text x="8.4" y="363.7" font-size="9" fill="#9400f0">(9620 .. 9642)</text>
<text x="78.3" y="363.7" font-size="10" fill="#9400f0">M13/pUC Forward</text>
<text x="62.2" y="348.1" font-size="9" fill="#9400f0">(9856 .. 9875)</text>
<text x="132.0" y="348.1" font-size="10" fill="#9400f0">F1ori-R</text>
<text x="54.2" y="317.2" font-size="9" fill="#9400f0">(10,066 .. 10,087)</text>
<text x="142.1" y="317.2" font-size="10" fill="#9400f0">F1ori-F</text>
<text x="93.3" y="237.5" font-size="9" fill="#9400f0">(10,573 .. 10,592)</text>
<text x="180.0" y="237.5" font-size="10" fill="#9400f0">Amp-R</text>
<text x="481.4" y="430.2" font-size="11" font-weight="bold" text-anchor="middle" fill="#000">pLenti-HF1RA-P2A-GFP-PGK-Puro</text>
<text x="480.6" y="441.0" font-size="9" text-anchor="middle" fill="#222">12,448 bp</text>
</svg></body></html>
